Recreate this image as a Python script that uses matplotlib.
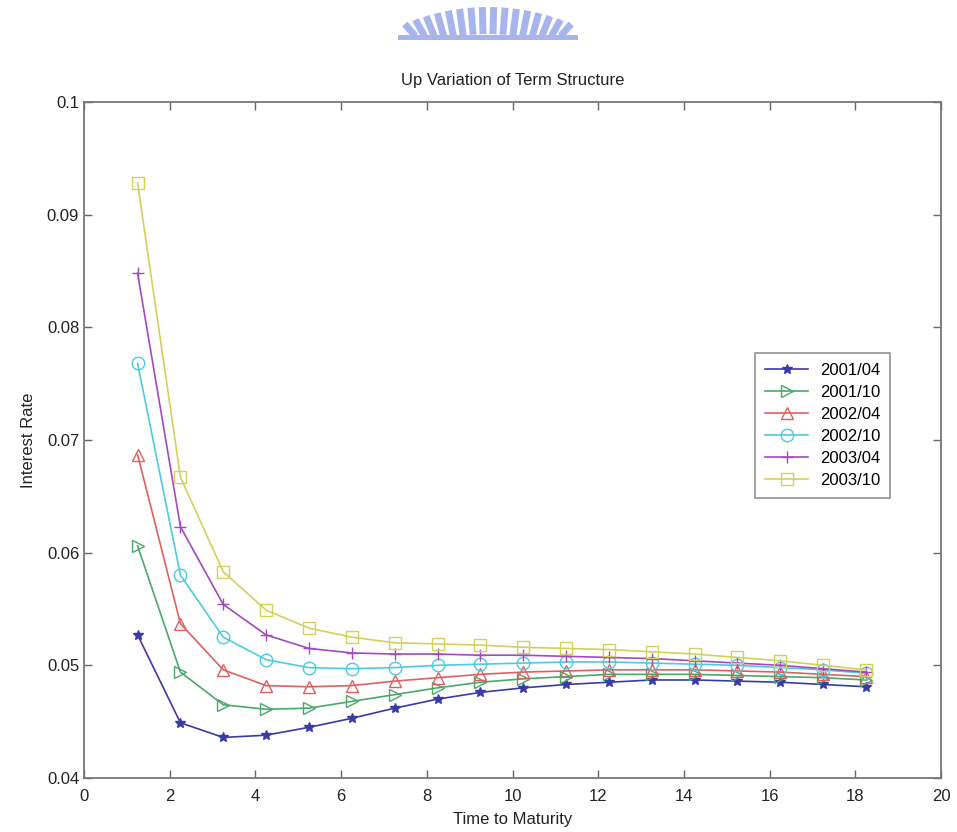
import numpy as np
import matplotlib.pyplot as plt
from matplotlib.patches import Rectangle

plt.rcParams['font.family'] = ['Liberation Sans', 'DejaVu Sans']

# time to maturity (years)
maturity = [1.25, 2.25, 3.25, 4.25, 5.25, 6.25, 7.25, 8.25, 9.25,
            10.25, 11.25, 12.25, 13.25, 14.25, 15.25, 16.25, 17.25, 18.25]

labels = ['2001/04', '2001/10', '2002/04', '2002/10', '2003/04', '2003/10']

r_200104 = [0.0527, 0.0449, 0.0436, 0.0438, 0.0445, 0.0453, 0.0462, 0.0470, 0.0476,
            0.0480, 0.0483, 0.0485, 0.0487, 0.0487, 0.0486, 0.0485, 0.0483, 0.0481]
r_200110 = [0.0606, 0.0494, 0.0465, 0.0461, 0.0462, 0.0468, 0.0474, 0.0480, 0.0485,
            0.0488, 0.0490, 0.0492, 0.0492, 0.0492, 0.0491, 0.0490, 0.0489, 0.0487]
r_200204 = [0.0687, 0.0537, 0.0496, 0.0482, 0.0481, 0.0482, 0.0486, 0.0489, 0.0492,
            0.0494, 0.0495, 0.0496, 0.0496, 0.0496, 0.0495, 0.0494, 0.0492, 0.0490]
r_200210 = [0.0768, 0.0580, 0.0525, 0.0505, 0.0498, 0.0497, 0.0498, 0.0500, 0.0501,
            0.0502, 0.0503, 0.0503, 0.0502, 0.0501, 0.0500, 0.0498, 0.0496, 0.0493]
r_200304 = [0.0848, 0.0623, 0.0554, 0.0527, 0.0515, 0.0511, 0.0510, 0.0510, 0.0509,
            0.0509, 0.0508, 0.0507, 0.0506, 0.0504, 0.0502, 0.0500, 0.0497, 0.0494]
r_200310 = [0.0928, 0.0667, 0.0583, 0.0549, 0.0533, 0.0525, 0.0520, 0.0519, 0.0518,
            0.0516, 0.0515, 0.0514, 0.0512, 0.0510, 0.0507, 0.0504, 0.0500, 0.0496]

series = [r_200104, r_200110, r_200204, r_200210, r_200304, r_200310]
colors = ['#3a3aa8', '#4aa86a', '#e06060', '#4ccbe2', '#a548c0', '#d2d25a']
markers = ['*', '>', '^', 'o', '+', 's']

fig = plt.figure(figsize=(9.57, 8.32), dpi=100)
ax = fig.add_axes([0.0878, 0.0649, 0.8955, 0.8125])

for y, lab, c, m in zip(series, labels, colors, markers):
    filled = m in ('*', '+')
    ax.plot(maturity, y, color=c, marker=m, markersize=9 if m != '*' else 7,
            markerfacecolor=c if filled else 'none', markeredgecolor=c,
            linewidth=1.2, label=lab)

ax.set_xlim(0, 20)
ax.set_ylim(0.04, 0.1)
ax.set_xticks(np.arange(0, 21, 2))
ax.set_yticks([0.04, 0.05, 0.06, 0.07, 0.08, 0.09, 0.1])
ax.set_yticklabels(['0.04', '0.05', '0.06', '0.07', '0.08', '0.09', '0.1'])
ax.tick_params(direction='in', top=True, right=True, length=6, width=1,
               color='#666666', labelsize=12, labelcolor='#222222')
ax.tick_params(axis='x', pad=8)
for s in ax.spines.values():
    s.set_color('#777777')
    s.set_linewidth(1.3)

ax.set_title('Up Variation of Term Structure', fontsize=12, color='#222222', pad=12)
ax.set_xlabel('Time to Maturity', fontsize=12, color='#222222', labelpad=6)
ax.set_ylabel('Interest Rate', fontsize=12, color='#222222', labelpad=8)

leg = ax.legend(loc='upper left', bbox_to_anchor=(0.783, 0.629), fontsize=12,
                frameon=True, fancybox=False, handlelength=2.6, borderaxespad=0,
                borderpad=0.6, labelspacing=0.42, handletextpad=0.7)
leg.get_frame().set_edgecolor('#777777')
leg.get_frame().set_linewidth(1.2)

# logo strip at the top of the page
W, H = 957, 832
logo = fig.add_axes([0, 0, 1, 1], zorder=-1)
logo.set_xlim(0, W)
logo.set_ylim(H, 0)
logo.axis('off')
logo.add_patch(Rectangle((398, 35), 180, 5, color='#a8b4ec', lw=0))
cx, cy, r_in, r_out = 488, 220, 186, 213
for ang in np.linspace(-23, 23, 16):
    t = np.radians(ang)
    x0, y0 = cx + r_in * np.sin(t), cy - r_in * np.cos(t)
    x1, y1 = cx + r_out * np.sin(t), cy - r_out * np.cos(t)
    y0 = min(y0, 36)
    logo.plot([x0, x1], [y0, y1], color='#a8b4ec', lw=5, solid_capstyle='butt')

fig.savefig('out.png', dpi=100)
